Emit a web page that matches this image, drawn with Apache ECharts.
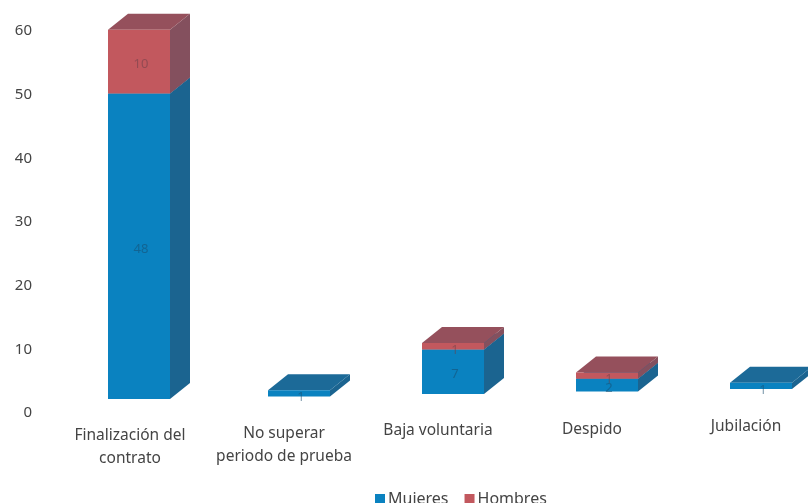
<!DOCTYPE html>
<html>
<head>
<meta charset="utf-8">
<style>
  html, body { margin: 0; padding: 0; background: #fff; }
  #chart { width: 808px; height: 503px; }
</style>
<script src="https://cdn.jsdelivr.net/npm/echarts@6/dist/echarts.min.js"></script>
</head>
<body>
<div id="chart"></div>
<script>
const categories = ['Finalización del\ncontrato', 'No superar\nperiodo de prueba', 'Baja voluntaria', 'Despido', 'Jubilación']
const mujeres = [48, 1, 7, 2, 1]
const hombres = [10, 0, 1, 1, 0]
const yTicks = [0, 10, 20, 30, 40, 50, 60]

// the scan is slightly tilted, so the floor and labels climb to the right
const labelPad = [9, 7, 4, 3, 0]
const depthX = 20
const depthY = 16
const barWidth = 62

const chart = echarts.init(document.getElementById('chart'))

const makeRender = (front, top, side, labelColor) => (params, api) => {
  const i = api.value(0)
  const lift = 14 + i * 2.5
  const shift = i === 0 ? 9 : 15
  const start = api.coord([i, api.value(1)])
  const end = api.coord([i, api.value(2)])
  const x0 = start[0] + shift - barWidth / 2
  const x1 = x0 + barWidth
  const y0 = start[1] - lift
  const y1 = end[1] - lift
  const value = api.value(2) - api.value(1)
  if (value <= 0) return { type: 'group', children: [] }
  return {
    type: 'group',
    children: [
      {
        type: 'polygon',
        shape: { points: [[x1, y0], [x1 + depthX, y0 - depthY], [x1 + depthX, y1 - depthY], [x1, y1]] },
        style: { fill: side }
      },
      {
        type: 'polygon',
        shape: { points: [[x0, y1], [x1, y1], [x1 + depthX, y1 - depthY], [x0 + depthX, y1 - depthY]] },
        style: { fill: top }
      },
      {
        type: 'rect',
        shape: { x: x0, y: y1, width: barWidth, height: y0 - y1 },
        style: { fill: front }
      },
      {
        type: 'text',
        style: {
          text: String(value),
          x: (x0 + x1) / 2 + 2,
          y: (y0 + y1) / 2 + (y0 - y1 < 10 ? 4 : 3),
          align: 'center',
          verticalAlign: 'middle',
          fill: labelColor,
          opacity: 0.55,
          font: '13px "Noto Sans"'
        }
      }
    ]
  }
}

const option = {
  backgroundColor: '#ffffff',
  animation: false,
  grid: { left: 53, top: 31, width: 770, bottom: 90, outerBoundsMode: 'none' },
  legend: {
    left: 370,
    top: 486,
    itemWidth: 10,
    itemHeight: 10,
    itemGap: 16,
    textStyle: { color: '#444', fontSize: 16, fontFamily: 'Noto Sans', padding: [0, 0, 0, -2] },
    data: [
      { name: 'Mujeres', icon: 'rect', itemStyle: { color: '#0a82c0' } },
      { name: 'Hombres', icon: 'rect', itemStyle: { color: '#c2585e' } }
    ]
  },
  xAxis: {
    type: 'category',
    data: categories.map((name, i) => ({ value: name, textStyle: { padding: [labelPad[i], 0, 0, 0] } })),
    axisLine: { show: false },
    axisTick: { show: false },
    axisLabel: { color: '#444', fontSize: 15.5, fontFamily: 'Noto Sans', lineHeight: 23, margin: 2, interval: 0 }
  },
  yAxis: {
    type: 'value',
    min: yTicks[0],
    max: yTicks[yTicks.length - 1],
    interval: yTicks[1] - yTicks[0],
    splitLine: { show: false },
    axisLine: { show: false },
    axisTick: { show: false },
    axisLabel: { color: '#444', fontSize: 15, fontFamily: 'Noto Sans', margin: 21, align: 'right' }
  },
  series: [
    {
      name: 'Mujeres',
      type: 'custom',
      clip: false,
      renderItem: makeRender('#0a82c0', '#1c6a98', '#1b6490', '#1a4d6e'),
      encode: { x: 0, y: [1, 2] },
      data: mujeres.map((v, i) => [i, 0, v])
    },
    {
      name: 'Hombres',
      type: 'custom',
      clip: false,
      renderItem: makeRender('#c2585e', '#95505c', '#84505e', '#6d4048'),
      encode: { x: 0, y: [1, 2] },
      data: hombres.map((v, i) => [i, mujeres[i], mujeres[i] + v])
    }
  ]
}

chart.setOption(option)
</script>
</body>
</html>
